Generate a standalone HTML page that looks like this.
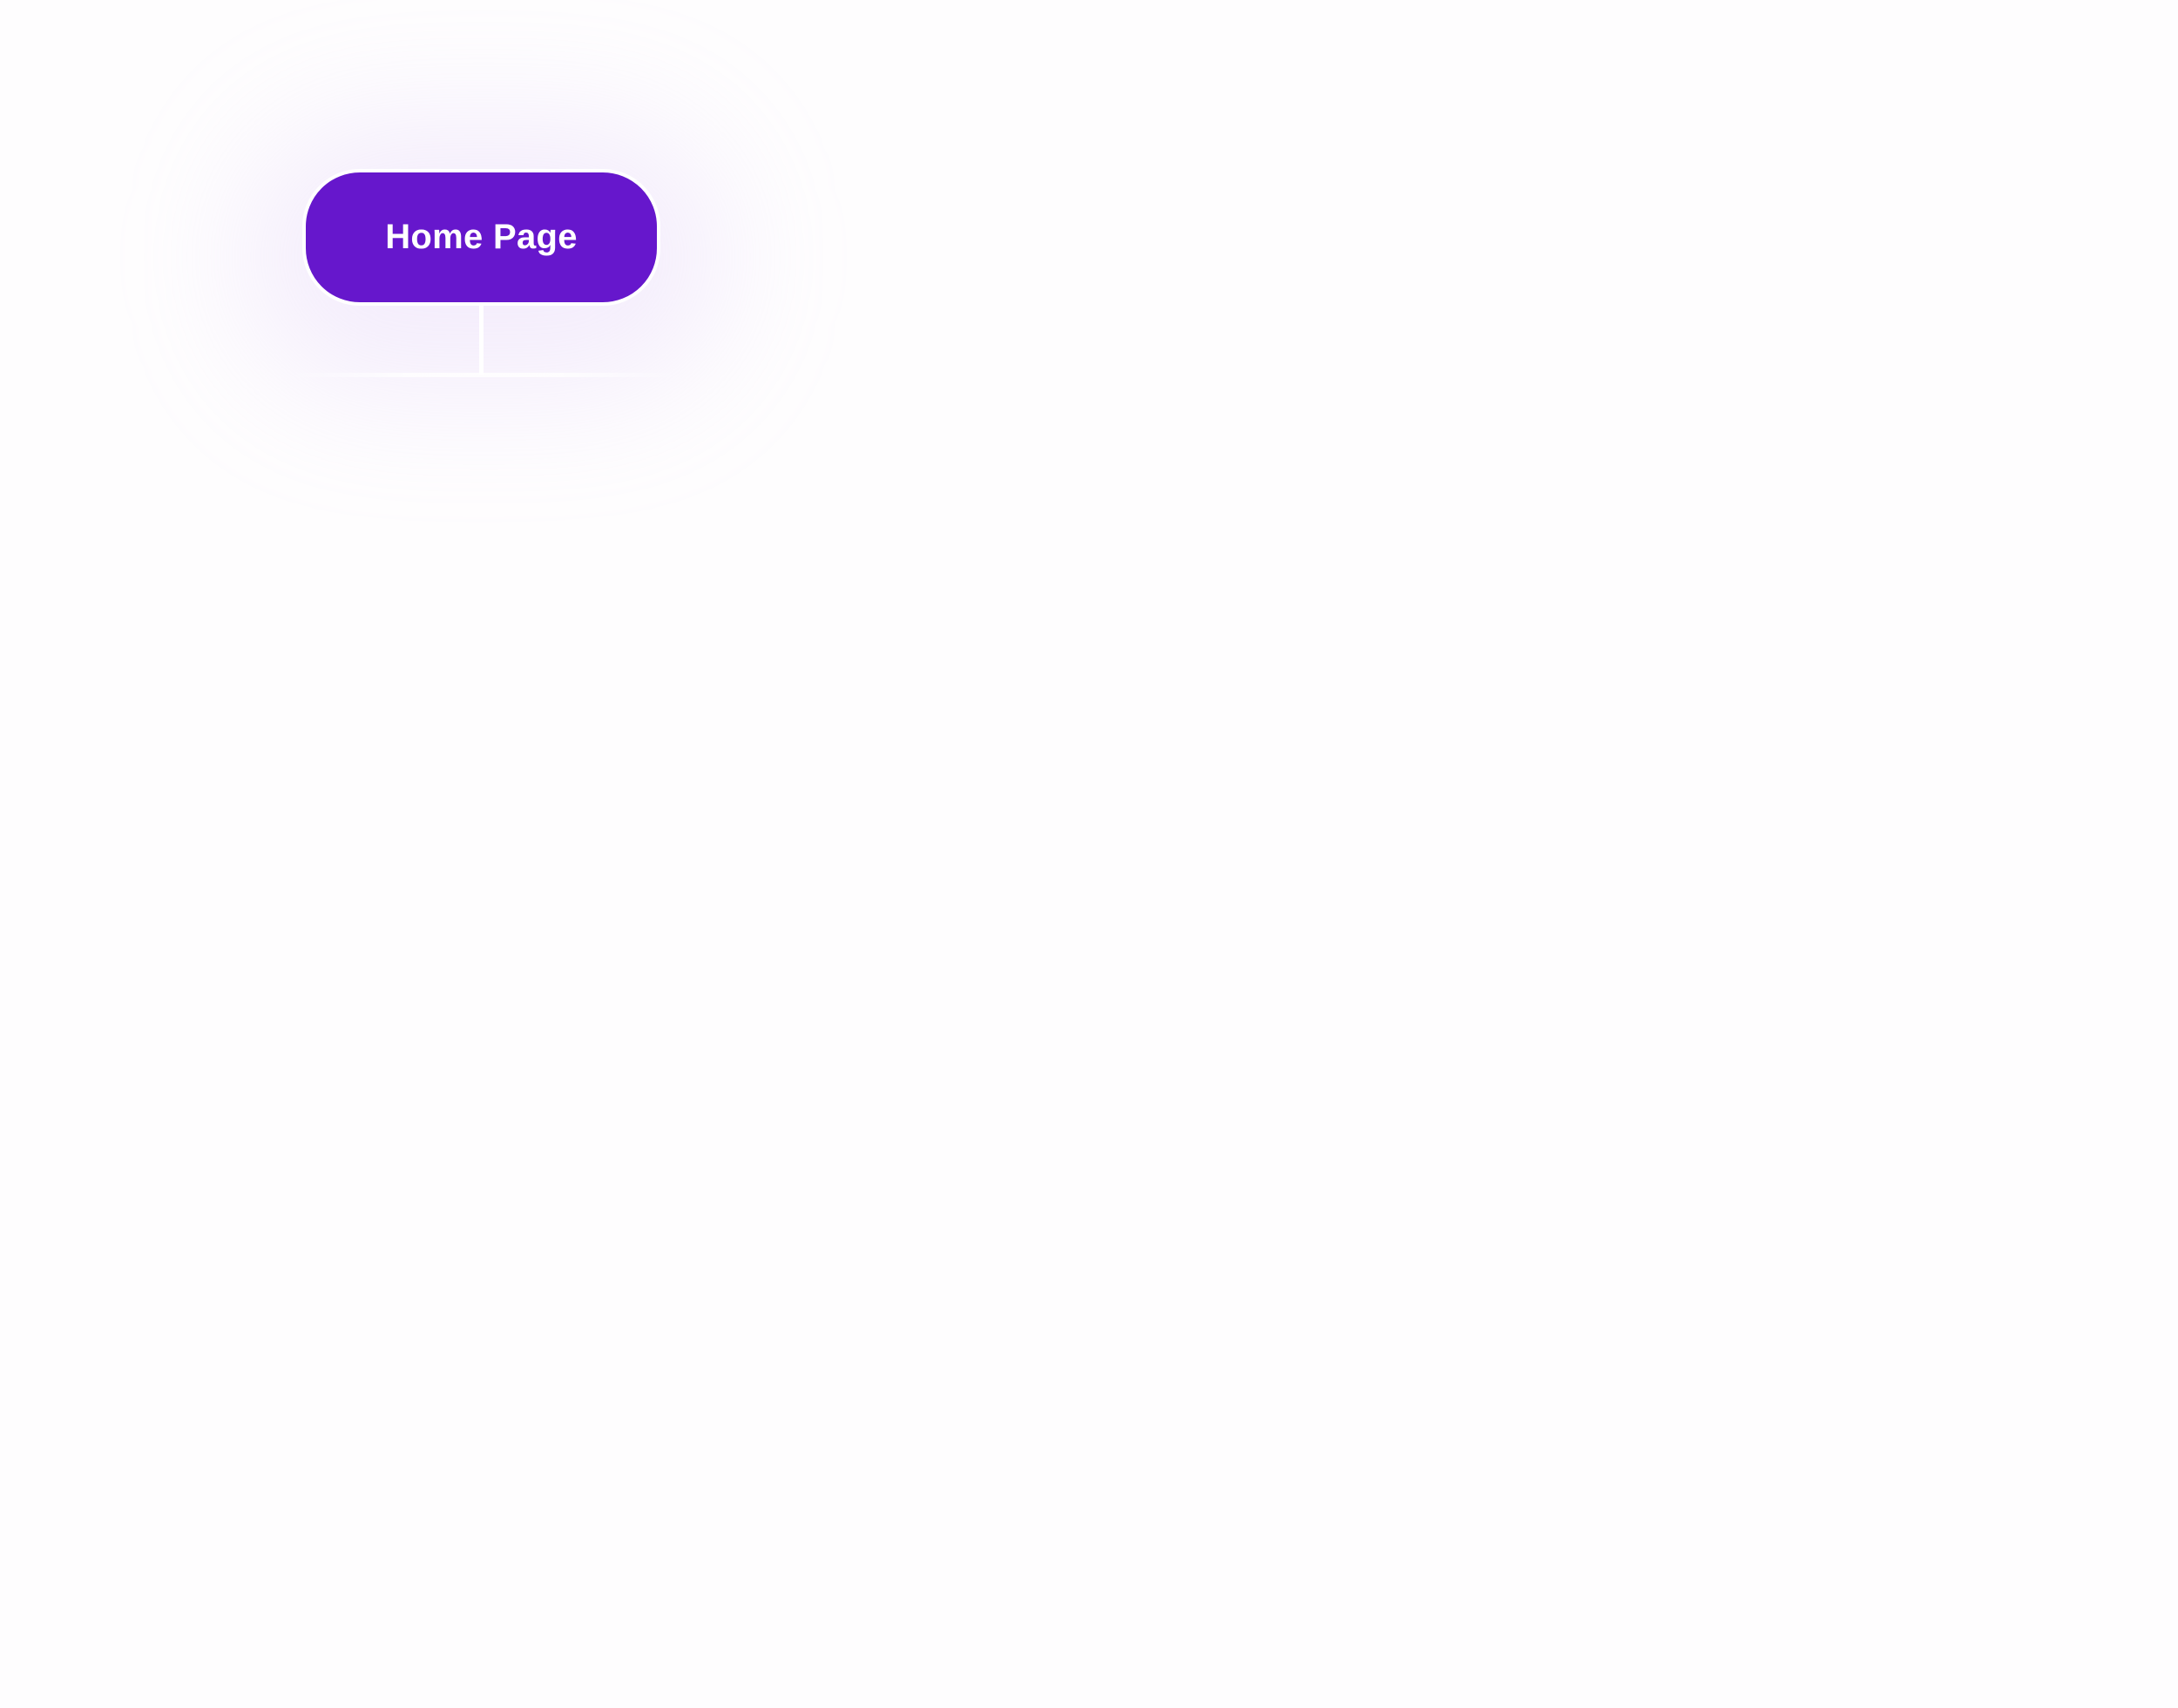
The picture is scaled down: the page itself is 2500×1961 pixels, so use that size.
<!DOCTYPE html>
<html><head><meta charset="utf-8"><style>
html,body{margin:0;padding:0;}
body{width:2500px;height:1961px;background:#fefdfe;position:relative;overflow:hidden;font-family:"Liberation Sans",sans-serif;}
.glow{position:absolute;left:280px;top:140px;width:550px;height:310px;border-radius:160px;background:rgba(215,190,245,0.24);filter:blur(70px);}
.vl{position:absolute;left:550px;top:345px;width:5px;height:85px;background:#fff;}
.hl{position:absolute;left:330px;top:428px;width:450px;height:5px;background:linear-gradient(90deg,rgba(255,255,255,0),rgba(255,255,255,0.8) 30%,rgba(255,255,255,0.8) 70%,rgba(255,255,255,0));}
.btn{position:absolute;left:347px;top:194px;width:403px;height:149px;border:4px solid #fff;border-radius:66px;background:#6617cc;color:#fff;font-weight:bold;font-size:40px;display:flex;align-items:center;justify-content:center;letter-spacing:0.3px;}
</style></head><body>
<div class="glow"></div>
<div class="vl"></div>
<div class="hl"></div>
<div class="btn">Home Page</div>
</body></html>
